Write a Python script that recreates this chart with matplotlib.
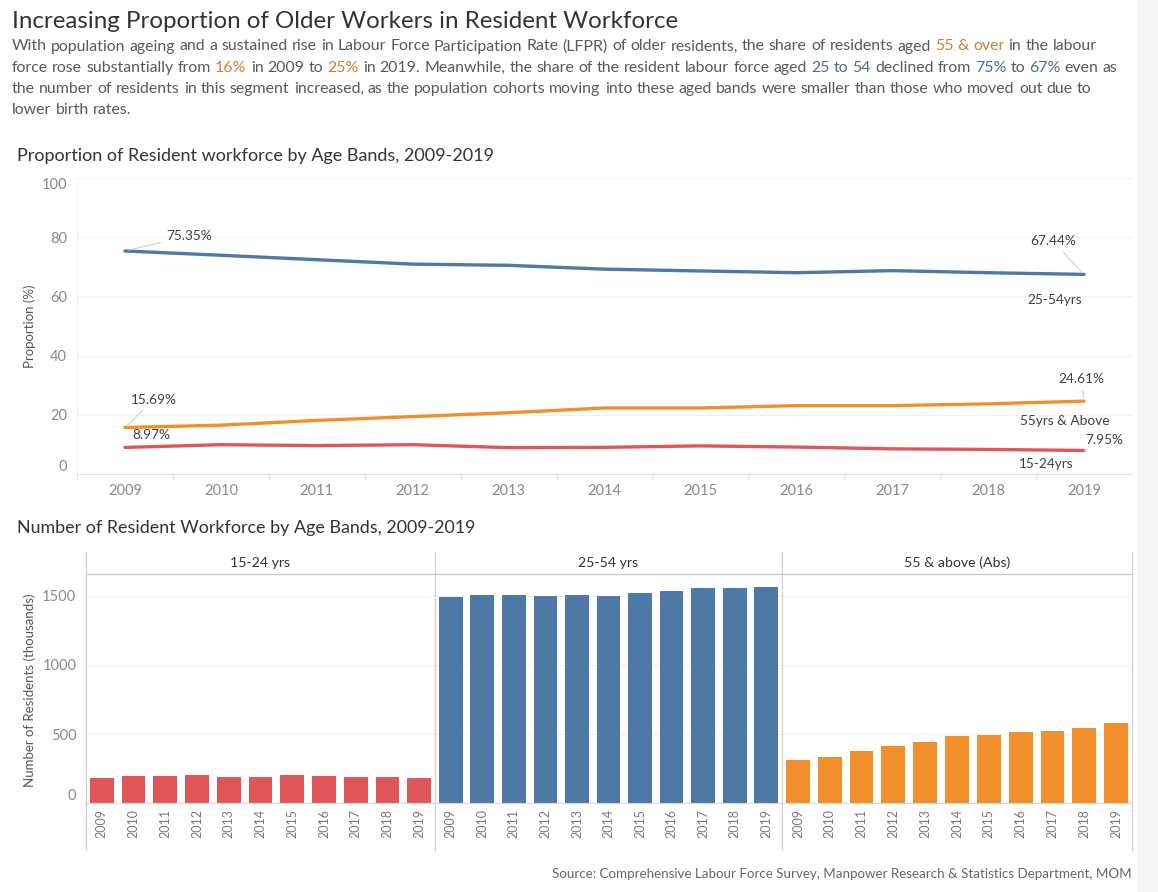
import matplotlib
matplotlib.use('Agg')
import matplotlib.pyplot as plt
from matplotlib.lines import Line2D
from matplotlib.patches import Rectangle

# ---- data ----
years = list(range(2009, 2020))

share_15_24 = [8.97, 9.9, 9.6, 9.9, 8.9, 9.0, 9.5, 9.1, 8.5, 8.3, 7.95]
share_25_54 = [75.35, 73.9, 72.4, 70.9, 70.5, 69.2, 68.6, 68.0, 68.7, 68.0, 67.44]
share_55_up = [15.69, 16.5, 18.1, 19.4, 20.7, 22.3, 22.3, 23.1, 23.1, 23.7, 24.61]

num_15_24 = [180, 196, 196, 206, 187, 187, 206, 196, 187, 187, 180]
num_25_54 = [1490, 1507, 1507, 1500, 1507, 1500, 1522, 1531, 1555, 1555, 1565]
num_55_up = [313, 337, 378, 411, 445, 486, 495, 517, 526, 543, 577]

panel_titles = ['15-24 yrs', '25-54 yrs', '55 & above (Abs)']

RED = '#e15759'
BLUE = '#4e79a7'
ORANGE = '#f28e2b'
TXT_OR = '#d08035'
TXT_BL = '#4a6d95'
GREY_T = '#595959'
FONT = 'Lato'

W, H = 1158, 892
fig = plt.figure(figsize=(W / 100, H / 100), dpi=100)
fig.patch.set_facecolor('white')


def fx(px):
    return px / W


def fy(py):
    return 1 - py / H


# light strip on the right edge
fig.add_artist(Rectangle((fx(1137), 0), 1 - fx(1137), 1, transform=fig.transFigure,
                         color='#f5f5f5', zorder=0))

# ---- title + body text ----
fig.text(fx(12), fy(28), 'Increasing Proportion of Older Workers in Resident Workforce',
         fontsize=17.4, color='#333333', family=FONT, va='baseline')

body = [
    [('With population ageing and a sustained rise in Labour Force Participation Rate (LFPR) '
      'of older residents, the share of residents aged', GREY_T), ('55 & over', TXT_OR),
     ('in the labour', GREY_T)],
    [('force rose substantially from', GREY_T), ('16%', TXT_OR), ('in 2009 to', GREY_T),
     ('25%', TXT_OR), ('in 2019. Meanwhile, the share of the resident labour force aged', GREY_T),
     ('25 to 54', TXT_BL), ('declined from', GREY_T), ('75%', TXT_BL), ('to', GREY_T),
     ('67%', TXT_BL), ('even as', GREY_T)],
    [('the number of residents in this segment increased, as the population cohorts moving '
      'into these aged bands were smaller than those who moved out due to', GREY_T)],
    [('lower birth rates.', GREY_T)],
]

renderer = fig.canvas.get_renderer()


def text_width(s, size):
    t = fig.text(0, 0, s, fontsize=size, family=FONT)
    w = t.get_window_extent(renderer).width
    t.remove()
    return w


# pick a size so the first line spans the same width as the reference
line1 = ' '.join(s for s, _ in body[0])
body_size = 10 * 1086 / text_width(line1, 10)
space = text_width('a a', body_size) - text_width('aa', body_size)

for i, segs in enumerate(body):
    x = 12
    y = 50.5 + i * 21.2
    for seg, col in segs:
        for word in seg.split(' '):
            t = fig.text(fx(x), fy(y), word, fontsize=body_size, color=col,
                         family=FONT, va='baseline')
            x += t.get_window_extent(renderer).width + space

# ---- line chart ----
fig.text(fx(17), fy(161), 'Proportion of Resident workforce by Age Bands, 2009-2019',
         fontsize=13, color='#333333', family=FONT, va='baseline')

ax = fig.add_axes([fx(77), fy(474), fx(1132) - fx(77), (474 - 178) / H])
ax.plot(years, share_25_54, color=BLUE, lw=2.4, solid_capstyle='round')
ax.plot(years, share_55_up, color=ORANGE, lw=2.4, solid_capstyle='round')
ax.plot(years, share_15_24, color=RED, lw=2.4, solid_capstyle='round')
ax.set_xlim(2008.5, 2019.5)
ax.set_ylim(0, 100)
ax.set_yticks(range(0, 101, 20))
ax.set_xticks(years)
ax.set_xticks([y + 0.5 for y in years[:-1]] + [2008.5], minor=True)
ax.tick_params(axis='both', which='major', length=0, labelsize=10.5, labelcolor='#8a8a8a')
ax.tick_params(axis='y', pad=7)
ax.tick_params(axis='x', pad=7)
ax.tick_params(axis='x', which='minor', length=4, color='#e0e0e0', width=0.8)
for lab in ax.get_xticklabels() + ax.get_yticklabels():
    lab.set_family(FONT)
# end labels sit inside the axis range, as in the original
ylabs = ax.get_yticklabels()
ylabs[0].set_verticalalignment('bottom')
ylabs[-1].set_verticalalignment('top')
ax.grid(axis='y', color='#efefef', lw=0.8)
ax.set_axisbelow(True)
for s in ['top', 'right']:
    ax.spines[s].set_visible(False)
ax.spines['left'].set_color('#f0f0f0')
ax.spines['bottom'].set_color('#e0e0e0')

fig.text(fx(30), fy(326), 'Proportion (%)', rotation=90, ha='center', va='center',
         fontsize=9.5, color='#555555', family=FONT)

lead = dict(arrowstyle='-', color='#cfcfcf', lw=0.8, shrinkA=2, shrinkB=3)
labels = [
    (2009, share_25_54[0], f'{share_25_54[0]:.2f}%', (64, 15), lead),
    (2009, share_55_up[0], f'{share_55_up[0]:.2f}%', (29, 28), lead),
    (2009, share_15_24[0], f'{share_15_24[0]:.2f}%', (26, 12), lead),
    (2019, share_25_54[-1], f'{share_25_54[-1]:.2f}%', (-31, 33), lead),
    (2019, share_25_54[-1], '25-54yrs', (-29, -26), None),
    (2019, share_55_up[-1], f'{share_55_up[-1]:.2f}%', (-3, 22), lead),
    (2019, share_55_up[-1], '55yrs & Above', (-19, -20), None),
    (2019, share_15_24[-1], f'{share_15_24[-1]:.2f}%', (20, 10), lead),
    (2019, share_15_24[-1], '15-24yrs', (-38, -14), None),
]
for xv, yv, s, off, arrow in labels:
    ax.annotate(s, xy=(xv, yv), xytext=off, textcoords='offset pixels',
                ha='center', va='center', fontsize=9.8, color='#404040', family=FONT,
                arrowprops=arrow)

# ---- bar chart ----
fig.text(fx(17), fy(533), 'Number of Resident Workforce by Age Bands, 2009-2019',
         fontsize=12.9, color='#333333', family=FONT, va='baseline')

panels = [(86, 435), (435, 782), (782, 1132)]
series = [num_15_24, num_25_54, num_55_up]
colors = [RED, BLUE, ORANGE]
top_px, base_px = 574.3, 803.3

for k, ((x0, x1), vals, col, title) in enumerate(zip(panels, series, colors, panel_titles)):
    bx = fig.add_axes([fx(x0), fy(base_px), fx(x1) - fx(x0), (base_px - top_px) / H])
    bx.bar(range(len(years)), vals, width=0.75, color=col)
    bx.set_xlim(-0.5, len(years) - 0.5)
    bx.set_ylim(0, 1655)
    bx.set_yticks([0, 500, 1000, 1500])
    bx.set_xticks(range(len(years)))
    bx.set_xticklabels([str(y) for y in years], rotation=90, fontsize=9,
                       color='#7a7a7a', family=FONT)
    bx.tick_params(axis='x', length=0, pad=4)
    bx.tick_params(axis='y', length=0, pad=7, labelsize=10.5, labelcolor='#8a8a8a')
    if k == 0:
        for lab in bx.get_yticklabels():
            lab.set_family(FONT)
        bx.get_yticklabels()[0].set_verticalalignment('bottom')
    else:
        bx.set_yticklabels([])
    bx.grid(axis='y', color='#f0f0f0', lw=0.8)
    bx.set_axisbelow(True)
    for s in ['top', 'right', 'left']:
        bx.spines[s].set_visible(False)
    bx.spines['bottom'].set_color('#d9d9d9')
    fig.text(fx((x0 + x1) / 2), fy(563), title, ha='center', va='center',
             fontsize=10.2, color='#333333', family=FONT)

# panel frame lines
fig.add_artist(Line2D([fx(86), fx(1132)], [fy(574.3), fy(574.3)], color='#c8c8c8', lw=0.9))
for xp in [86, 435, 782, 1132]:
    fig.add_artist(Line2D([fx(xp), fx(xp)], [fy(552), fy(850)], color='#d0d0d0', lw=0.9))

fig.text(fx(30), fy(690), 'Number of Residents (thousands)', rotation=90, ha='center',
         va='center', fontsize=9.5, color='#555555', family=FONT)

fig.text(fx(1132), fy(874), 'Source: Comprehensive Labour Force Survey, Manpower Research '
         '& Statistics Department, MOM', ha='right', va='center', fontsize=9.6,
         color='#666666', family=FONT)

fig.savefig('out.png', dpi=100)
